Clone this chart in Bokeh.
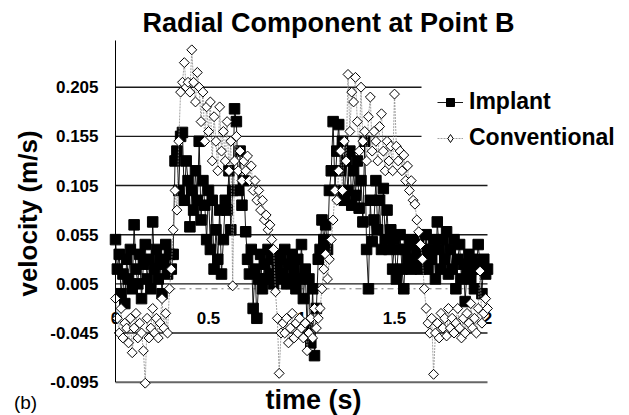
import numpy as np
from bokeh.plotting import figure
from bokeh.models import Range1d, Label, Legend, LegendItem, ColumnDataSource
from bokeh.embed import file_html
from bokeh.resources import INLINE
from bokeh.core.properties import value

# ---------------- data ----------------
time_s = np.round(np.linspace(0, 2, 201), 2)

implant = [
    0.05, 0.02, 0.035, -0.005, 0.015, -0.015, 0.03, 0.01, 0.04, 0.0,
    0.065, 0.02, 0.005, 0.035, -0.01, 0.025, 0.045, 0.01, 0.03, 0.0,
    0.068, 0.02, 0.04, 0.01, 0.03, -0.005, 0.025, 0.045, 0.015, 0.035,
    0.02, 0.035, 0.13, 0.14, 0.1, 0.155, 0.159, 0.09, 0.13, 0.11,
    0.063, 0.1, 0.08, 0.12, 0.09, 0.15, 0.07, 0.11, 0.085, 0.05,
    0.1, 0.04, 0.09, 0.02, 0.06, 0.03, 0.08, 0.015, 0.05, 0.09,
    0.08, 0.12, 0.06, 0.1, 0.183, 0.17, 0.1, 0.14, 0.085, 0.11,
    0.058, 0.03, 0.015, 0.04, -0.02, 0.02, -0.03, 0.01, 0.035, 0.0,
    0.025, 0.01, 0.04, 0.015, 0.03, 0.005, 0.035, 0.02, 0.01, 0.03,
    0.015, 0.04, 0.005, 0.025, 0.01, 0.035, 0.02, 0.0, 0.03, 0.01,
    0.045, -0.01, 0.02, -0.04, 0.01, -0.055, 0.0, -0.068, -0.02, 0.03,
    0.04, 0.07, 0.05, 0.065, 0.04, 0.1, 0.12, 0.17, 0.1, 0.14,
    0.167, 0.12, 0.15, 0.09, 0.13, 0.1, 0.14, 0.085, 0.12, 0.095,
    0.13, 0.082, 0.11, 0.068, 0.15, 0.04, 0.0, 0.09, 0.048, 0.07,
    0.11, 0.06, 0.09, 0.04, 0.102, 0.05, 0.08, 0.04, 0.06, 0.02,
    0.05, 0.01, 0.04, 0.055, 0.02, 0.0, 0.04, 0.03, 0.05, 0.02,
    0.045, 0.025, 0.035, 0.05, 0.02, 0.04, 0.03, 0.055, 0.02, 0.04,
    0.03, 0.05, 0.01, 0.068, 0.04, 0.02, 0.05, 0.03, 0.058, 0.015,
    0.04, 0.02, 0.05, 0.0, 0.03, 0.045, 0.01, 0.025, -0.013, 0.02,
    0.035, 0.01, 0.03, 0.0, 0.02, 0.045, 0.025, -0.005, 0.03, 0.015,
    0.02,
]

conventional = [
    -0.01, -0.03, -0.045, -0.02, -0.05, -0.035, -0.04, -0.055, -0.03, -0.065,
    -0.04, -0.025, -0.05, -0.035, -0.045, -0.063, -0.096, -0.03, -0.05, -0.04,
    -0.02, -0.045, -0.03, -0.05, -0.035, -0.01, -0.04, -0.025, -0.045, 0.0,
    0.02, 0.06, 0.1, 0.08, 0.15, 0.2, 0.21, 0.23, 0.205, 0.21,
    0.2, 0.243, 0.21, 0.19, 0.22, 0.205, 0.17, 0.2, 0.15, 0.185,
    0.16, 0.19, 0.13, 0.175, 0.15, 0.12, 0.185, 0.14, 0.16, 0.13,
    0.17, 0.12, 0.15, 0.003, 0.13, 0.155, 0.12, 0.14, 0.11, 0.13,
    0.12, 0.135, 0.11, 0.125, 0.1, 0.11, 0.09, 0.1, 0.08, 0.09,
    0.07, 0.075, 0.06, 0.065, 0.05, 0.04, -0.003, -0.03, -0.086, -0.045,
    -0.035, -0.045, -0.03, -0.055, -0.04, -0.025, -0.05, -0.035, -0.045, -0.03,
    -0.04, -0.05, -0.035, -0.063, -0.045, -0.03, -0.05, -0.02, -0.04, -0.03,
    -0.02, 0.0, 0.02, 0.035, 0.01, 0.03, 0.05, 0.07, 0.1, 0.09,
    0.12, 0.14, 0.1, 0.15, 0.13, 0.218, 0.16, 0.2, 0.19, 0.215,
    0.17, 0.14, 0.205, 0.15, 0.16, 0.13, 0.175, 0.195, 0.14, 0.16,
    0.15, 0.13, 0.165, 0.178, 0.14, 0.12, 0.15, 0.13, 0.145, 0.12,
    0.198, 0.145, 0.13, 0.14, 0.12, 0.136, 0.11, 0.125, 0.1, 0.11,
    0.09, 0.086, 0.07, 0.058, 0.045, 0.03, 0.0, -0.02, -0.035, -0.045,
    -0.03, -0.087, -0.045, -0.035, -0.05, -0.025, -0.04, -0.03, -0.048, -0.02,
    -0.04, -0.03, -0.045, -0.035, -0.02, -0.04, -0.05, -0.03, -0.045, -0.025,
    -0.035, -0.015, -0.04, -0.03, -0.045, -0.02, 0.018, -0.035, -0.025, -0.01,
    -0.02,
]

y_ticks = [-0.095, -0.045, 0.005, 0.055, 0.105, 0.155, 0.205]
y_tick_labels = ["-0.095", "-0.045", "0.005", "0.055", "0.105", "0.155", "0.205"]
x_ticks = [0, 0.5, 1, 1.5, 2]
x_tick_labels = ["0", "0.5", "1", "1.5", "2"]

title_text = "Radial Component at Point B"
x_label = "time (s)"
y_label = "velocity (m/s)"
panel_tag = "(b)"
series_names = ["Implant", "Conventional"]

FONT = "Liberation Sans"

# ---------------- geometry: the frame spans the whole canvas ----------------
W, H = 629, 415
X0_PX, X1_PX = 115.0, 487.0        # pixel columns of t=0 and t=2
YB_PX, YT_PX = 381.7, 86.7         # pixel rows of -0.095 and 0.205
x_per_px = 2.0 / (X1_PX - X0_PX)
y_per_px = (0.205 - (-0.095)) / (YB_PX - YT_PX)
x_start = 0 - X0_PX * x_per_px
x_end = 2 + (W - X1_PX) * x_per_px
y_end = 0.205 + YT_PX * y_per_px
y_start = -0.095 - (H - YB_PX) * y_per_px
axis_top = 0.2525
LEGEND_LEFT_PX = 421.0
legend_left_t = (LEGEND_LEFT_PX - X0_PX) * x_per_px

p = figure(width=W, height=H, output_backend="svg", toolbar_location=None,
           x_range=Range1d(x_start, x_end), y_range=Range1d(y_start, y_end),
           x_axis_location=None, y_axis_location=None,
           min_border=0, min_border_left=0, min_border_right=0,
           min_border_top=0, min_border_bottom=0)
p.outline_line_color = None
p.background_fill_color = "white"
p.border_fill_color = "white"
p.xgrid.visible = False
p.ygrid.visible = False

# horizontal gridlines at the y ticks (bottom one is the grey base line);
# the two top lines stop where the legend box sits
n = len(y_ticks)
grid_colors = ["#666666"] + ["#1a1a1a"] * (n - 1)
grid_widths = [2.0] + [1.4] * (n - 1)
grid_x1 = [2.0] * (n - 2) + [legend_left_t, legend_left_t]
p.segment(x0=[0] * n, x1=grid_x1, y0=y_ticks, y1=y_ticks,
          line_color=grid_colors, line_width=grid_widths)

# zero line (category axis crossing)
p.segment(x0=[0], x1=[2], y0=[0], y1=[0], line_color="#777777",
          line_width=1, line_dash="dashdot")

# y tick labels
p.text(x=[0] * n, y=y_ticks, text=y_tick_labels, x_offset=-17,
       text_font=value(FONT), text_font_style="bold", text_font_size="17px",
       text_align="right", text_baseline="middle", text_color="black")

# x tick labels under the zero line, beneath the data
p.text(x=x_ticks, y=[-0.03] * len(x_ticks), text=x_tick_labels,
       text_font=value(FONT), text_font_style="bold", text_font_size="17px",
       text_align="center", text_baseline="middle", text_color="black")

src = ColumnDataSource(dict(t=time_s, imp=implant, conv=conventional))

l1 = p.line("t", "imp", source=src, line_color="black", line_width=0.9)
m1 = p.scatter("t", "imp", source=src, marker="square", size=10.5,
               fill_color="black", line_color="black")
l2 = p.line("t", "conv", source=src, line_color="#8a8a8a", line_width=0.8,
            line_dash="2 1")
m2 = p.scatter("t", "conv", source=src, marker="square", angle=np.pi / 4,
               size=7, fill_color="white", line_color="black", line_width=1)
# legend-only glyph (legend draws markers unrotated); its point is NaN
m2_leg = p.scatter(x=np.array([np.nan]), y=np.array([np.nan]), marker="diamond",
                   size=13, fill_color="white", line_color="black", line_width=1)

# y axis line
p.segment(x0=[0], x1=[0], y0=[-0.095], y1=[axis_top], line_color="black",
          line_width=1)

legend = Legend(items=[LegendItem(label=series_names[0], renderers=[l1, m1]),
                       LegendItem(label=series_names[1], renderers=[l2, m2_leg])],
                location=(437, 264), padding=16, margin=0, spacing=9,
                glyph_width=26, glyph_height=20, label_standoff=6,
                label_text_font=FONT, label_text_font_style="bold",
                label_text_font_size="23px", label_text_color="black",
                border_line_color=None, background_fill_color="white",
                background_fill_alpha=1.0)
p.add_layout(legend)

# texts positioned in screen pixels (frame == canvas, y measured upward)
p.add_layout(Label(x=328, y=H - 22, x_units="screen", y_units="screen",
                   text=title_text, text_font=FONT, text_font_style="bold",
                   text_font_size="27px", text_align="center",
                   text_baseline="middle", text_color="black"))
p.add_layout(Label(x=313, y=H - 399, x_units="screen", y_units="screen",
                   text=x_label, text_font=FONT, text_font_style="bold",
                   text_font_size="27px", text_align="center",
                   text_baseline="middle", text_color="black"))
p.add_layout(Label(x=27, y=H - 213, x_units="screen", y_units="screen",
                   text=y_label, text_font=FONT, text_font_style="bold",
                   text_font_size="26px", text_align="center",
                   text_baseline="middle", angle=np.pi / 2, text_color="black"))
p.add_layout(Label(x=25, y=H - 402, x_units="screen", y_units="screen",
                   text=panel_tag, text_font=FONT, text_font_size="19px",
                   text_align="center", text_baseline="middle",
                   text_color="black"))

open("out.html", "w").write(file_html(p, INLINE))
